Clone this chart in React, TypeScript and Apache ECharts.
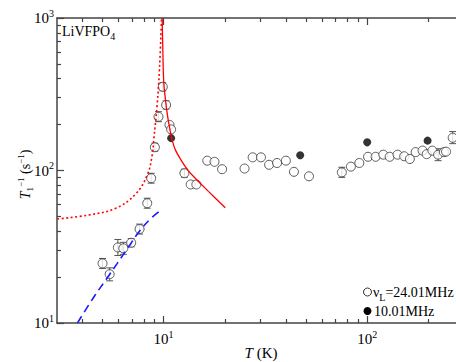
import React, { useEffect, useRef } from "react";
import * as echarts from "echarts";

// ---- data (T in K, 1/T1 in s^-1) ----
const openT = [5.02, 5.44, 5.97, 6.35, 6.94, 7.63, 8.32, 8.7, 9.07, 9.45, 9.92, 10.3, 10.7, 10.9, 12.67, 13.6, 14.5, 16.4, 17.8, 19.4, 25.0, 27.4, 30.1, 33.0, 36.1, 39.9, 43.7, 51.8, 75.1, 83.2, 91.5, 101, 110, 120, 129, 141, 152, 162, 173, 187, 196, 209, 223, 238, 244, 263];
const openR = [24.6, 20.9, 31.3, 30.9, 33.6, 41.3, 61, 89, 142, 225, 354, 269, 199, 186, 96, 81, 81, 116, 114, 102, 103, 122, 122, 109, 112, 116, 98, 91.6, 97.2, 106, 112, 123, 123, 127, 123, 127, 124, 119, 132, 135, 128, 135, 127, 132, 133, 164];

const filledT = [10.9, 46.9, 100, 198];
const filledR = [163, 126, 153, 157];

const errT = [5.02, 5.44, 5.97, 6.35, 6.94, 7.63, 8.32, 8.7, 9.07, 9.45, 9.92, 10.3, 12.67, 75.1, 223, 263];
const errLo = [22.8, 18.9, 27.7, 28.2, 31.6, 38.3, 56.6, 82.6, 134, 209, 333, 253, 90.4, 90.2, 116, 150];
const errHi = [26.5, 23.0, 35.3, 33.8, 35.7, 44.5, 65.8, 95.9, 151, 243, 376, 286, 102, 105, 139, 180];

const solidT = [9.85, 9.92, 10.03, 10.23, 10.42, 10.7, 11.03, 11.45, 12.35, 13.26, 14.35, 16.62, 20.1];
const solidR = [1000, 635, 380, 290, 238, 193, 158, 136, 114, 99.3, 88.7, 73, 57.0];

const dottedT = [3.01, 4.3, 5.82, 7.29, 8.32, 8.8, 8.96, 9.31, 9.56, 9.78];
const dottedR = [48.1, 51.1, 56.5, 70.0, 93.4, 126, 160, 270, 470, 1000];

const dashedT = [3.78, 4.55, 5.3, 5.93, 6.89, 7.57, 8.64, 9.85];
const dashedR = [10, 14.8, 19.8, 24.6, 33.0, 39.5, 48.3, 55.7];

const xMajor = [10, 100];
const xMinor = [4, 5, 6, 7, 8, 9, 20, 30, 40, 50, 60, 70, 80, 90, 200];
const yMajor = [10, 100, 1000];
const yMinor = [20, 30, 40, 50, 60, 70, 80, 90, 200, 300, 400, 500, 600, 700, 800, 900];

const xMin = 3;
const xMax = 273;
const yMin = 10;
const yMax = 1000;

const L = (v: number) => Math.log10(v);
const serif = '"Liberation Serif", "Times New Roman", serif';

const rich: any = {
  n: { fontFamily: serif, fontSize: 15, color: "#000", lineHeight: 20, verticalAlign: "middle" },
  m: { fontFamily: serif, fontSize: 14, color: "#000", lineHeight: 20, verticalAlign: "middle" },
  i: { fontFamily: serif, fontSize: 15, color: "#000", fontStyle: "italic", lineHeight: 20, verticalAlign: "middle" },
  sup: { fontFamily: serif, fontSize: 10, color: "#000", lineHeight: 10, verticalAlign: "top" },
  sub: { fontFamily: serif, fontSize: 10, color: "#000", lineHeight: 10, verticalAlign: "bottom" },
};

const richX: any = {
  n: { fontFamily: serif, fontSize: 15, color: "#000", lineHeight: 16, verticalAlign: "middle" },
  i: { fontFamily: serif, fontSize: 15, color: "#000", fontStyle: "italic", lineHeight: 16, verticalAlign: "middle" },
};

const richY: any = {
  n: { fontFamily: serif, fontSize: 14, color: "#000", lineHeight: 18, verticalAlign: "middle" },
  i: { fontFamily: serif, fontSize: 14, color: "#000", fontStyle: "italic", lineHeight: 18, verticalAlign: "middle" },
  sup: { fontFamily: serif, fontSize: 9, color: "#000", lineHeight: 9, verticalAlign: "top" },
  sub: { fontFamily: serif, fontSize: 9, color: "#000", lineHeight: 9, verticalAlign: "bottom" },
};

const axisColor = "#444";

export default function App() {
  const ref = useRef<HTMLDivElement>(null);
  useEffect(() => {
    if (!ref.current) return;
    const chart = echarts.init(ref.current, undefined, { renderer: "svg" });

    const pair = (ts: number[], rs: number[]) => ts.map((t, i) => [L(t), L(rs[i])]);

    const baseX = (pos: string, show: boolean, major: boolean) => ({
      type: "value",
      position: pos,
      min: L(xMin),
      max: L(xMax),
      axisLine: { show, lineStyle: { color: axisColor, width: 1.5 } },
      axisTick: {
        show: true,
        inside: true,
        length: major ? 7 : 4,
        customValues: (major ? xMajor : xMinor).map(L),
        lineStyle: { color: axisColor, width: 1.2 },
      },
      axisLabel: { show: false },
      splitLine: { show: false },
    });
    const baseY = (major: boolean) => ({
      type: "value",
      position: "left",
      min: L(yMin),
      max: L(yMax),
      axisLine: { show: major, lineStyle: { color: axisColor, width: 1.5 } },
      axisTick: {
        show: true,
        inside: true,
        length: major ? 7 : 4,
        customValues: (major ? yMajor : yMinor).map(L),
        lineStyle: { color: axisColor, width: 1.2 },
      },
      axisLabel: { show: false },
      splitLine: { show: false },
    });

    const x0: any = baseX("bottom", true, true);
    x0.axisLabel = {
      show: true,
      customValues: xMajor.map(L),
      margin: 6,
      formatter: (v: number) => `{n|10}{sup|${Math.round(v)}}`,
      rich,
    };
    x0.name = "{i|T}{n| (K)}";
    x0.nameLocation = "middle";
    x0.nameGap = 22;
    x0.nameMoveOverlap = false;
    x0.nameTextStyle = { rich: richX, padding: [0, 0, 0, 9] };

    const y0: any = baseY(true);
    y0.axisLabel = {
      show: true,
      customValues: yMajor.map(L),
      margin: 3,
      formatter: (v: number) => `{n|10}{sup|${Math.round(v)}}`,
      rich,
    };
    y0.name = "{i|T}{sub|1}{sup|−1}{n| (s}{sup|−1}{n|)}";
    y0.nameLocation = "middle";
    y0.nameRotate = 90;
    y0.nameGap = 23;
    y0.nameMoveOverlap = false;
    y0.nameTextStyle = { rich: richY, padding: [0, 8, 0, 0] };

    const option: any = {
      animation: false,
      grid: { left: 57, right: 0, top: 18, bottom: 39, outerBoundsMode: "none" },
      xAxis: [x0, baseX("bottom", false, false), baseX("top", true, true), baseX("top", false, false)],
      yAxis: [y0, baseY(false)],
      series: [
        {
          type: "custom",
          xAxisIndex: 0,
          yAxisIndex: 0,
          z: 2,
          data: errT.map((t, i) => [L(t), L(errLo[i]), L(errHi[i])]),
          encode: { x: 0, y: [1, 2] },
          renderItem: (params: any, api: any) => {
            const lo = api.coord([api.value(0), api.value(1)]);
            const hi = api.coord([api.value(0), api.value(2)]);
            const x = lo[0];
            const w = 3.5;
            const style = { stroke: "#555", lineWidth: 1 };
            return {
              type: "group",
              children: [
                { type: "line", shape: { x1: x, y1: lo[1], x2: x, y2: hi[1] }, style },
                { type: "line", shape: { x1: x - w, y1: lo[1], x2: x + w, y2: lo[1] }, style },
                { type: "line", shape: { x1: x - w, y1: hi[1], x2: x + w, y2: hi[1] }, style },
              ],
            };
          },
        },
        {
          type: "scatter",
          name: "24.01MHz",
          z: 3,
          symbol: "circle",
          symbolSize: 9,
          itemStyle: { color: "#fff", borderColor: "#333", borderWidth: 1 },
          data: pair(openT, openR),
        },
        {
          type: "scatter",
          name: "10.01MHz",
          z: 4,
          symbol: "circle",
          symbolSize: 8,
          itemStyle: { color: "#000" },
          data: pair(filledT, filledR),
        },
        {
          type: "line",
          z: 5,
          showSymbol: false,
          smooth: 0.4,
          lineStyle: { color: "#ff0000", width: 1.3 },
          data: pair(solidT, solidR),
        },
        {
          type: "line",
          z: 5,
          showSymbol: false,
          smooth: 0.4,
          lineStyle: { color: "#ff0000", width: 1.6, type: [2, 2.5] },
          data: pair(dottedT, dottedR),
        },
        {
          type: "line",
          z: 5,
          showSymbol: false,
          smooth: 0.4,
          lineStyle: { color: "#1a1aff", width: 1.6, type: [8, 5] },
          data: pair(dashedT, dashedR),
        },
      ],
      graphic: [
        {
          type: "text",
          x: 62,
          y: 31,
          style: { text: "{m|LiVFPO}{sub|4}", rich, verticalAlign: "middle", align: "left" },
        },
        {
          type: "circle",
          shape: { cx: 367.5, cy: 292, r: 4 },
          style: { fill: "#fff", stroke: "#333", lineWidth: 1 },
        },
        {
          type: "text",
          x: 373,
          y: 292,
          style: { text: "{m|ν}{sub|L}{m|=24.01MHz}", rich, verticalAlign: "middle", align: "left" },
        },
        {
          type: "circle",
          shape: { cx: 367.5, cy: 311, r: 4 },
          style: { fill: "#000" },
        },
        {
          type: "text",
          x: 374,
          y: 311,
          style: { text: "{m|10.01MHz}", rich, verticalAlign: "middle", align: "left" },
        },
      ],
    };
    chart.setOption(option);
    return () => chart.dispose();
  }, []);
  return (
    <div
      ref={ref}
      style={{ position: "absolute", left: 0, top: 0, width: 456, height: 362, background: "#fff" }}
    />
  );
}
